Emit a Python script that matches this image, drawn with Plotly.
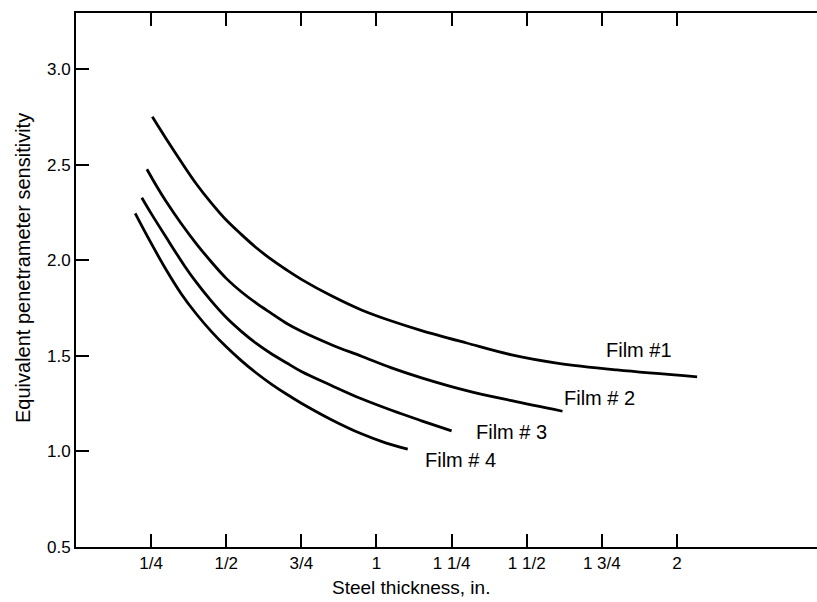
import plotly.graph_objects as go

# Steel thickness (in.) and equivalent penetrameter sensitivity for each film
film1_x = [0.254, 0.30, 0.35, 0.40, 0.45, 0.50, 0.55, 0.60, 0.65, 0.70, 0.75, 0.85, 0.95, 1.05, 1.15, 1.30, 1.45, 1.60, 1.80, 2.067]
film1_y = [2.75, 2.635, 2.515, 2.40, 2.30, 2.21, 2.135, 2.065, 2.004, 1.95, 1.90, 1.814, 1.74, 1.682, 1.632, 1.567, 1.505, 1.462, 1.426, 1.39]

film2_x = [0.236, 0.27, 0.30, 0.35, 0.40, 0.45, 0.50, 0.55, 0.60, 0.65, 0.70, 0.75, 0.85, 0.95, 1.05, 1.15, 1.30, 1.45, 1.619]
film2_y = [2.476, 2.383, 2.307, 2.192, 2.087, 1.992, 1.905, 1.835, 1.775, 1.722, 1.67, 1.628, 1.558, 1.498, 1.437, 1.385, 1.318, 1.265, 1.21]

film3_x = [0.219, 0.25, 0.30, 0.363, 0.40, 0.45, 0.50, 0.55, 0.60, 0.65, 0.70, 0.75, 0.85, 0.95, 1.05, 1.15, 1.25]
film3_y = [2.327, 2.245, 2.12, 1.966, 1.885, 1.787, 1.70, 1.628, 1.565, 1.511, 1.464, 1.418, 1.345, 1.275, 1.215, 1.16, 1.107]

film4_x = [0.197, 0.25, 0.30, 0.35, 0.40, 0.45, 0.50, 0.55, 0.60, 0.65, 0.70, 0.75, 0.85, 0.95, 1.03, 1.104]
film4_y = [2.245, 2.089, 1.95, 1.825, 1.72, 1.628, 1.547, 1.475, 1.41, 1.352, 1.30, 1.252, 1.166, 1.092, 1.045, 1.012]

x_tickvals = [0.25, 0.5, 0.75, 1.0, 1.25, 1.5, 1.75, 2.0]
x_ticktext = ["1/4", "1/2", "3/4", "1", "1 1/4", "1 1/2", "1 3/4", "2"]
y_tickvals = [0.5, 1.0, 1.5, 2.0, 2.5, 3.0]
y_ticktext = ["0.5", "1.0", "1.5", "2.0", "2.5", "3.0"]

film_labels = ["Film #1", "Film # 2", "Film # 3", "Film # 4"]
label_x = [1.872, 1.742, 1.450, 1.281]
label_y = [1.53, 1.281, 1.103, 0.954]

FONT = "Liberation Sans"

fig = go.Figure()
for xs, ys in [(film1_x, film1_y), (film2_x, film2_y), (film3_x, film3_y), (film4_x, film4_y)]:
    fig.add_trace(go.Scatter(x=xs, y=ys, mode="lines",
                             line=dict(color="black", width=2.8, shape="spline", smoothing=1.0),
                             showlegend=False, hoverinfo="skip"))

for t, lx, ly in zip(film_labels, label_x, label_y):
    fig.add_annotation(x=lx, y=ly, text=t, showarrow=False, xanchor="center", yanchor="middle",
                       font=dict(family=FONT, size=20, color="black"))

fig.add_annotation(xref="paper", yref="paper", x=-0.0715, y=0.5225,
                   text="Equivalent penetrameter sensitivity", textangle=-90, showarrow=False,
                   xanchor="center", yanchor="middle", font=dict(family=FONT, size=20, color="black"))
fig.add_annotation(xref="paper", yref="paper", x=0.452, y=-0.076,
                   text="Steel thickness, in.", showarrow=False,
                   xanchor="center", yanchor="middle", font=dict(family=FONT, size=19, color="black"))

fig.update_xaxes(range=[0, 2.466], tickvals=x_tickvals, ticktext=x_ticktext,
                 ticks="inside", ticklen=13, tickwidth=1.5, tickcolor="black",
                 showline=True, linecolor="black", linewidth=2, mirror="ticks",
                 showgrid=False, zeroline=False,
                 tickfont=dict(family=FONT, size=17, color="black"))

fig.update_layout(
    width=817, height=602,
    margin=dict(l=76, r=0, t=13, b=55),
    paper_bgcolor="white", plot_bgcolor="white",
    yaxis=dict(range=[0.5, 3.293], tickvals=y_tickvals, ticktext=y_ticktext,
               ticks="inside", ticklen=13, tickwidth=1.5, tickcolor="black",
               showline=True, linecolor="black", linewidth=2, mirror=False,
               showgrid=False, zeroline=False,
               tickfont=dict(family=FONT, size=17, color="black")),
    yaxis2=dict(range=[0.5, 3.293], tickvals=y_tickvals, overlaying="y", side="right",
                ticks="inside", ticklen=5, tickwidth=1.5, tickcolor="black",
                showline=False, showticklabels=False, showgrid=False, zeroline=False),
)

# remove the page's default body margin so the figure fills the window exactly
fig.write_html("out.html", config={"displayModeBar": False},
               post_script="document.body.style.margin='0';document.body.style.overflow='hidden';")
